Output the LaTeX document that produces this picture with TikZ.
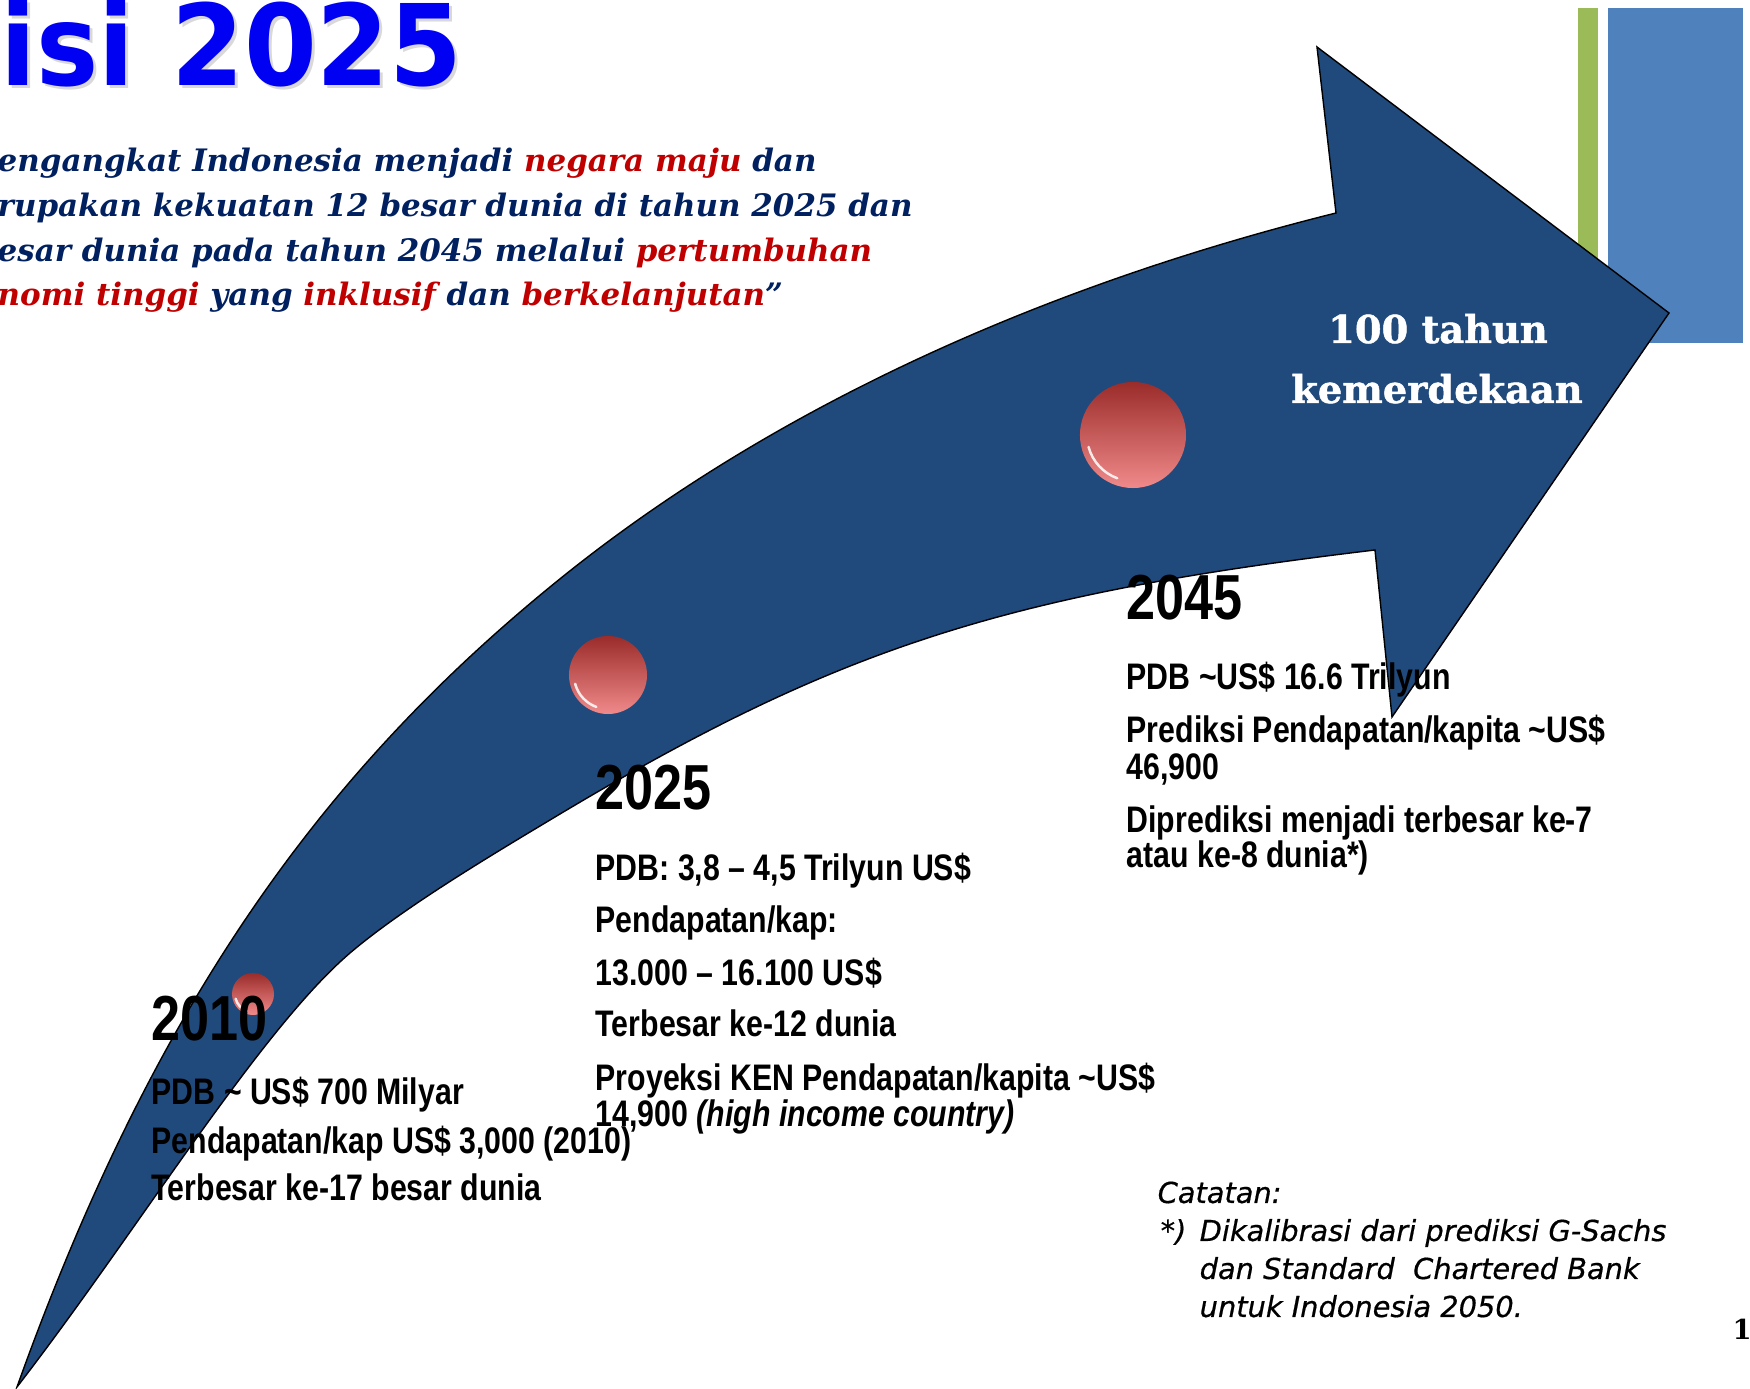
\documentclass[tikz,border=0pt]{standalone}
\usepackage{fontspec}
\setmainfont{Liberation Sans}
\newfontfamily\narrowfont[FakeStretch=0.82]{Liberation Sans}
\newfontfamily\titlefont[FakeStretch=0.93]{DejaVu Sans}
\newfontfamily\slabfont{DejaVu Serif}
\newfontfamily\headfont[FakeBold=1.2]{DejaVu Serif}
\newfontfamily\notefont[FakeBold=0.6]{DejaVu Sans}
\usetikzlibrary{positioning}
\definecolor{arrowblue}{HTML}{214A7C}
\definecolor{quotenavy}{HTML}{002060}
\definecolor{quotered}{HTML}{C00000}
\definecolor{titleblue}{HTML}{0000F2}
\definecolor{barblue}{HTML}{4F81BD}
\definecolor{bargreen}{HTML}{9BBB59}
\definecolor{balltop}{HTML}{9A2C2A}
\definecolor{ballbottom}{HTML}{F08A8A}

\begin{document}
\begin{tikzpicture}[x=0.01cm, y=-0.01cm, every node/.style={inner sep=0pt, anchor=base west},
  year/.style={font=\narrowfont\bfseries\fontsize{18.1}{20}\selectfont},
  fact/.style={font=\narrowfont\bfseries\fontsize{10.5}{12}\selectfont},
  quoteline/.style={font=\slabfont\bfseries\itshape\fontsize{8.8}{11}\selectfont, text=quotenavy},
  marble/.style={circle, anchor=center, top color=balltop, bottom color=ballbottom},
  glint/.style={white, line width=0.7pt, opacity=0.85, line cap=round},
  note/.style={font=\notefont\itshape\fontsize{8.2}{10}\selectfont}]
\clip (0,0) rectangle (1750,1389);

\fill[bargreen] (1578,8) rectangle (1598,343);
\fill[barblue] (1608,8) rectangle (1743,343);

\path[fill=arrowblue, draw=black, line width=0.4pt]
  (17,1387) .. controls (152,1010) and (318,777) .. (550,587)
  .. controls (774,403) and (1055,283) .. (1336,213)
  -- (1317,47) -- (1669,313) -- (1392,717) -- (1375,550)
  .. controls (998,595) and (833,650) .. (550,820)
  .. controls (490,856) and (403,908) .. (350,953)
  .. controls (259,1031) and (139,1229) .. (17,1387)
  -- cycle;

\node[marble, minimum size=0.42cm] (b2010) at (253,994) {};
\node[marble, minimum size=0.78cm] (b2025) at (608,675) {};
\node[marble, minimum size=1.06cm] (b2045) at (1133,435) {};
\foreach \b/\r in {b2010/0.18, b2025/0.34, b2045/0.46}
  \draw[glint] (\b.center) ++(195:\r cm) arc[start angle=195, end angle=250, radius=\r cm];

\node[font=\titlefont\bfseries\fontsize{32}{35}\selectfont, text=black, opacity=0.15] (titleshadow) at (3,89) {isi 2025};
\node[font=\titlefont\bfseries\fontsize{32}{35}\selectfont, text=titleblue] (title) at (0,86) {isi 2025};

\node[quoteline] (q1) at (-3,172) {engangkat Indonesia menjadi \textcolor{quotered}{negara maju} dan};
\node[quoteline] (q2) at (-3,217) {rupakan kekuatan 12 besar dunia di tahun 2025 dan};
\node[quoteline] (q3) at (-3,262) {esar dunia pada tahun 2045 melalui \textcolor{quotered}{pertumbuhan}};
\node[quoteline] (q4) at (-3,306) {\textcolor{quotered}{nomi tinggi} yang \textcolor{quotered}{inklusif} dan \textcolor{quotered}{berkelanjutan}”};

\node[font=\headfont\bfseries\fontsize{10.9}{12}\selectfont, text=white, anchor=base] (h1) at (1438,343) {100 tahun};
\node[font=\headfont\bfseries\fontsize{10.9}{12}\selectfont, text=white, anchor=base] (h2) at (1437,403) {kemerdekaan};

\node[year] (y2010) at (151,1041) {2010};
\node[fact] (a1) at (151,1105) {PDB \textasciitilde{} US\$ 700 Milyar};
\node[fact] (a2) at (151,1154) {Pendapatan/kap US\$ 3,000 (2010)};
\node[fact] (a3) at (151,1201) {Terbesar ke-17 besar dunia};

\node[year] (y2025) at (595,810) {2025};
\node[fact] (m1) at (595,881) {PDB: 3,8 – 4,5 Trilyun US\$};
\node[fact] (m2) at (595,933) {Pendapatan/kap:};
\node[fact] (m3) at (595,986) {13.000 – 16.100 US\$};
\node[fact] (m4) at (595,1037) {Terbesar ke-12 dunia};
\node[fact] (m5) at (595,1091) {Proyeksi KEN Pendapatan/kapita \textasciitilde US\$};
\node[fact] (m6) at (595,1127) {14,900 \textit{(high income country)}};

\node[year] (y2045) at (1126,620) {2045};
\node[fact] (z1) at (1126,690) {PDB \textasciitilde US\$ 16.6 Trilyun};
\node[fact] (z2) at (1126,743) {Prediksi Pendapatan/kapita \textasciitilde US\$};
\node[fact] (z3) at (1126,780) {46,900};
\node[fact] (z4) at (1126,833) {Diprediksi menjadi terbesar ke-7};
\node[fact] (z5) at (1126,868) {atau ke-8 dunia*)};

\node[note] (n0) at (1157,1203) {Catatan:};
\node[note] (n1) at (1160,1241) {*)};
\node[note] (n2) at (1199,1241) {Dikalibrasi dari prediksi G-Sachs};
\node[note] (n3) at (1199,1279) {dan Standard\ \ Chartered Bank};
\node[note] (n4) at (1199,1317) {untuk Indonesia 2050.};

\node[font=\slabfont\bfseries\fontsize{7.8}{9}\selectfont] (pg) at (1732,1340) {1};
\end{tikzpicture}
\end{document}
